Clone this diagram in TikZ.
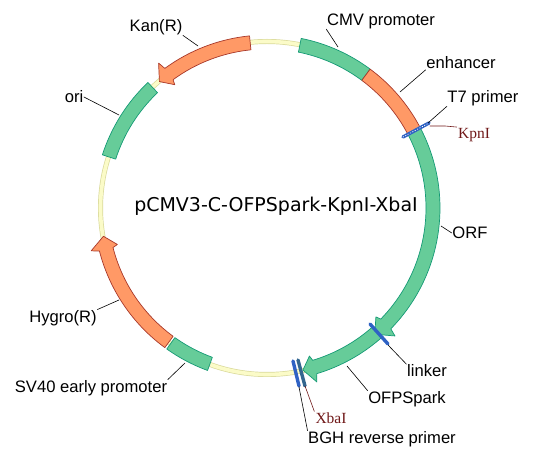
\documentclass[tikz,border=0pt]{standalone}
\usepackage{fontspec}
\setmainfont{Liberation Sans}
\newfontfamily\titlefont{DejaVu Sans}
\newfontfamily\sitefont{Liberation Serif}
\usetikzlibrary{calc}
\definecolor{genegreen}{HTML}{66CC99}
\definecolor{geneedge}{HTML}{159A75}
\definecolor{markerorange}{HTML}{FF9966}
\definecolor{markeredge}{HTML}{A8382A}
\definecolor{backbone}{HTML}{FBFBC8}
\definecolor{backedge}{HTML}{DADA9C}
\definecolor{primerblue}{HTML}{2F62C4}
\definecolor{sitesteel}{HTML}{33668F}
\definecolor{sitered}{HTML}{701818}
\tikzset{
  ring outer/.store in=\RingOut,
  ring inner/.store in=\RingIn,
  ring mid/.store in=\RingMid,
  barb outer/.store in=\BarbOut,
  barb inner/.store in=\BarbIn,
  ring outer=173pt,
  ring inner=159pt,
  ring mid=166pt,
  barb outer=181pt,
  barb inner=154pt,
  green gene/.style={fill=genegreen, draw=geneedge, line width=0.7pt},
  orange gene/.style={fill=markerorange, draw=markeredge, line width=0.7pt},
  primer bar/.style={draw=primerblue, line width=3.4pt},
  leader/.style={draw=black, line width=0.6pt},
  site leader/.style={draw=sitered, line width=0.6pt},
  gene label/.style={font=\fontsize{16.6}{18}\selectfont, inner sep=0.5pt},
  site label/.style={font=\sitefont\fontsize{15.5}{17}\selectfont, text=sitered, inner sep=1pt}
}
% plain segment of the ring
\newcommand{\GeneBox}[3]{
  \filldraw[#3] ($(C)+(#1:\RingOut)$) arc[start angle=#1, end angle=#2, radius=\RingOut]
    -- ($(C)+(#2:\RingIn)$) arc[start angle=#2, end angle=#1, radius=\RingIn] -- cycle;
}
% segment with a head: start, neck, barb, tip
\newcommand{\GeneArrow}[5]{
  \filldraw[#5] ($(C)+(#1:\RingOut)$) arc[start angle=#1, end angle=#2, radius=\RingOut]
    -- ($(C)+(#3:\BarbOut)$) -- ($(C)+(#4:\RingMid)$) -- ($(C)+(#3:\BarbIn)$)
    -- ($(C)+(#2:\RingIn)$) arc[start angle=#2, end angle=#1, radius=\RingIn] -- cycle;
}
\begin{document}
\begin{tikzpicture}[x=1pt, y=1pt, line cap=round, line join=round]
  \useasboundingbox (0,0) rectangle (539,455);

  % Centre of the plasmid
  \coordinate (C) at (267,247);

  % Backbone
  \draw[backedge, line width=5pt] (C) circle (166.5pt);
  \draw[backbone, line width=3.6pt] (C) circle (166.5pt);

  % Features on the ring
  \GeneBox{78.6}{53.4}{green gene}
  \GeneBox{53.4}{27.6}{orange gene}
  \GeneArrow{27.6}{-44.3}{-45}{-49.5}{green gene}
  \GeneArrow{-48.5}{-73.3}{-74}{-77.5}{green gene}
  \GeneArrow{95.8}{126.2}{126.8}{130.4}{orange gene}
  \GeneBox{133.5}{162.1}{green gene}
  \GeneArrow{233.8}{194.4}{193.7}{189.8}{orange gene}
  \GeneBox{234.6}{249.9}{green gene}

  % Primer and site bars
  \coordinate (T7a) at (403,318);
  \coordinate (T7b) at (429,332);
  \coordinate (LKa) at (370,131);
  \coordinate (LKb) at (388,111);
  \coordinate (BGHa) at (293,94);
  \coordinate (BGHb) at (299,69);
  \coordinate (XBa) at (298,95);
  \coordinate (XBb) at (305,69);
  \draw[primer bar] (T7a) -- (T7b);
  \draw[white, line width=0.7pt, dotted] (T7a) -- (T7b);
  \draw[primer bar] (LKa) -- (LKb);
  \draw[primer bar] (BGHa) -- (BGHb);
  \draw[primer bar, draw=sitesteel] (XBa) -- (XBb);

  % Labels
  \node[gene label] (cmvLabel) at (381,434) {CMV promoter};
  \node[gene label] (enhLabel) at (461,392) {enhancer};
  \node[gene label] (t7Label) at (483,357) {T7 primer};
  \node[site label] (kpnLabel) at (474,320) {KpnI};
  \node[gene label] (orfLabel) at (470,222) {ORF};
  \node[gene label] (lnkLabel) at (427,84) {linker};
  \node[gene label] (ofpLabel) at (407,56) {OFPSpark};
  \node[site label] (xbaLabel) at (331,37) {XbaI};
  \node[gene label] (bghLabel) at (382,16) {BGH reverse primer};
  \node[gene label] (svLabel) at (91,67) {SV40 early promoter};
  \node[gene label] (hygLabel) at (63,137) {Hygro(R)};
  \node[gene label] (oriLabel) at (74,358) {ori};
  \node[gene label] (kanLabel) at (156,428) {Kan(R)};
  \node[font=\titlefont\fontsize{19}{21}\selectfont] (nameLabel) at (276,249) {pCMV3-C-OFPSpark-KpnI-XbaI};

  % Feet of the leaders on the ring
  \coordinate (cmvFoot) at (338,408);
  \coordinate (enhFoot) at (400,363);
  \coordinate (t7Foot) at (428,332);
  \coordinate (kpnFoot) at (430,329);
  \coordinate (kpnBend) at (445,329);
  \coordinate (orfFoot) at (441,229);
  \coordinate (lnkFoot) at (388,110);
  \coordinate (ofpFoot) at (347,89);
  \coordinate (xbaFoot) at (305,69);
  \coordinate (bghFoot) at (299,68);
  \coordinate (svFoot) at (185,92);
  \coordinate (hygFoot) at (119,155);
  \coordinate (oriFoot) at (119,340);
  \coordinate (kanFoot) at (198,409);

  % Leaders
  \draw[leader] (cmvFoot) -- (cmvLabel.south west);
  \draw[leader] (enhFoot) -- (enhLabel.south west);
  \draw[leader] (t7Foot) -- (t7Label.south west);
  \draw[site leader] (kpnFoot) -- (kpnBend) -- (kpnLabel.north west);
  \draw[leader] (orfFoot) -- (orfLabel.west);
  \draw[leader] (lnkFoot) -- (lnkLabel.north west);
  \draw[leader] (ofpFoot) -- (ofpLabel.north west);
  \draw[site leader] (xbaFoot) -- (xbaLabel.north west);
  \draw[leader] (bghFoot) -- (bghLabel.north west);
  \draw[leader] (svFoot) -- (svLabel.north east);
  \draw[leader] (hygFoot) -- (hygLabel.north east);
  \draw[leader] (oriFoot) -- (oriLabel.east);
  \draw[leader] (kanFoot) -- (kanLabel.south east);

\end{tikzpicture}
\end{document}
